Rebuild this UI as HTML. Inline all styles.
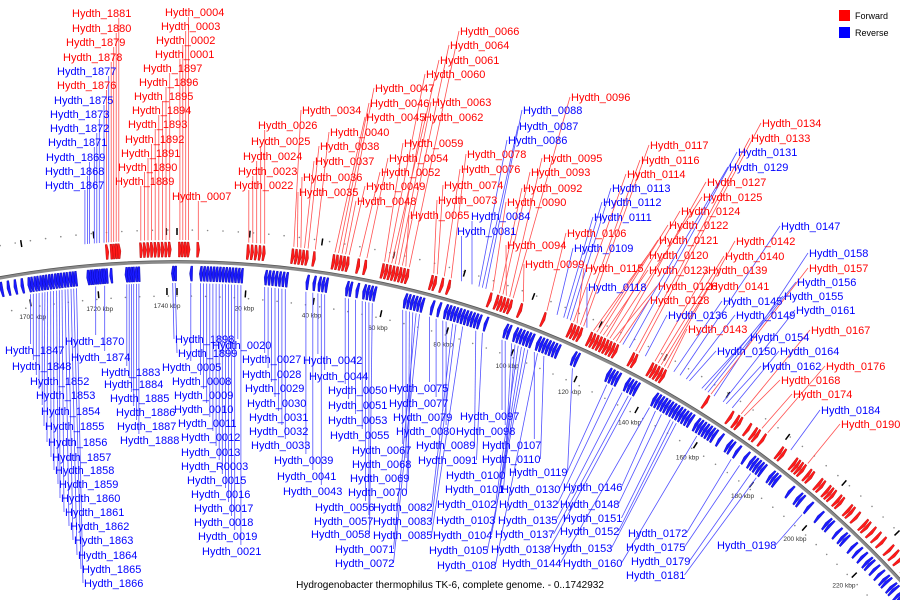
<!DOCTYPE html>
<html><head><meta charset="utf-8"><style>
html,body{margin:0;padding:0;background:#fff;width:900px;height:600px;overflow:hidden;}
svg{display:block;font-family:"Liberation Sans",sans-serif;overflow:hidden;}
</style></head><body>
<svg id="map" width="900" height="600" viewBox="0 0 900 600" xmlns="http://www.w3.org/2000/svg">
<g id="ticks"></g>
<circle cx="177" cy="1242" r="980" fill="none" stroke="#8a8a8a" stroke-width="3"/>
<circle cx="177" cy="1242" r="981.5" fill="none" stroke="#555" stroke-width="0.8"/>
<g id="genes"></g>
<g id="lines"></g>
<g id="labels" font-size="11"></g>
<g font-size="9">
 <rect x="839" y="10" width="11" height="11" fill="#f00"/>
 <text x="855" y="19" fill="#000">Forward</text>
 <rect x="839" y="27" width="11" height="11" fill="#00f"/>
 <text x="855" y="36" fill="#000">Reverse</text>
</g>
<text x="450" y="588" font-size="10" text-anchor="middle" fill="#000">Hydrogenobacter thermophilus TK-6, complete genome. - 0..1742932</text>
</svg>
<script>
const genomeLength = 1742.932;
const tickKbp = [1700,1720,1740,20,40,60,80,100,120,140,160,180,200,220];
const geneNames = ["1847","1848","1852","1853","1854","1855","1856","1857","1858","1859","1860","1861","1862","1863","1864","1865","1866","1867","1868","1869","1870","1871","1872","1873","1874","1875","1876","1877","1878","1879","1880","1881","1883","1884","1885","1886","1887","1888","1889","1890","1891","1892","1893","1894","1895","1896","1897","1898","1899",
"0001","0002","0003","0004","0005","0007","0008","0009","0010","0011","0012","0013","R0003","0015","0016","0017","0018","0019","0020","0021","0022","0023","0024","0025","0026","0027","0028","0029","0030","0031","0032","0033","0034","0035","0036","0037","0038","0039","0040","0041","0042","0043","0044","0045","0046","0047","0048","0049","0050","0051","0052","0053","0054","0055","0056","0057","0058","0059","0060","0061","0062","0063","0064","0065","0066","0067","0068","0069","0070","0071","0072","0073","0074","0075","0076","0077","0078","0079","0080","0081","0082","0083","0084","0085","0086","0087","0088","0089","0090","0091","0092","0093","0094","0095","0096","0097","0098","0099","0100","0101","0102","0103","0104","0105","0106","0107","0108","0109","0110","0111","0112","0113","0114","0115","0116","0117","0118","0119","0120","0121","0122","0123","0124","0125","0126","0127","0128","0129","0130","0131","0132","0133","0134","0135","0136","0137","0138","0139","0140","0141","0142","0143","0144","0145","0146","0147","0148","0149","0150","0151","0152","0153","0154","0155","0156","0157","0158","0160","0161","0162","0164","0167","0168","0172","0174","0175","0176","0179","0181","0184","0190","0198"];
const forwardGenes = ["1881","1880","1879","1878","1876","0004","0003","0002","0001","1897","1896","1895","1894","1893","1892","1891","1890","1889","0007","0026","0025","0024","0023","0022","0034","0040","0038","0037","0036","0035","0047","0046","0045","0059","0054","0052","0049","0048","0063","0062","0066","0064","0061","0060","0078","0076","0074","0073","0065","0096","0095","0093","0092","0090","0094","0099","0117","0116","0114","0106","0115","0134","0133","0127","0125","0124","0122","0121","0120","0123","0126","0128","0139","0141","0140","0142","0143","0157","0167","0176","0168","0174","0190"];
const geneStart = [1700,1700.8,1701.7,1702.5,1703.4,1704.2,1705,1705.9,1706.7,1707.6,1708.4,1709.2,1710.1,1710.9,1711.8,1712.6,1713.4,1717,1717.7,1718.3,1719,1719.6,1720.3,1721,1721.6,1722.3,1723,1723.6,1724.3,1725,1725.7,1726.4,1728,1728.7,1729.4,1730,1730.8,1731.5,1732.5,1733.5,1734.5,1735.5,1736.5,1737.5,1738.5,1739.5,1740.5,1741.3,1742,
0.4,1.2,2,2.8,3.6,5.5,6.4,7.3,8.2,9.1,10,10.9,11.8,12.7,13.6,14.5,15.4,16.3,17.2,18.1,19.5,20.6,21.7,22.8,23.9,25,26,27,28,29,30,31,32,33,34,35,36,37,38,39,40.5,41.5,42.5,43.5,44.5,45.5,46.5,47.5,48.5,49.5,50.5,51.5,52.5,53.5,54.5,55.5,56.5,57.5,58.5,59.5,60.5,61.5,62.5,63.5,64.5,65.5,66.5,67.5,68.5,69.5,70.5,71.5,72.5,73.5,74.5,75.5,76.5,77.5,78.5,79.5,80.5,81.5,82.5,83.5,84.5,85.5,86.5,87.5,88.5,89.5,90.5,91.5,92.5,93.5,94.5,95.5,96.5,97.5,98.5,99.5,100.5,101.5,102.5,103.5,104.5,105.5,106.5,107.5,108.5,109.5,110.5,111.5,112.5,113.5,114.5,115.5,116.5,117.5,118.5,119.5,120.5,121.5,122.5,123.5,124.5,125.5,126.5,127.5,128.5,129.5,130.5,131.5,132.5,133.5,134.5,135.5,136.5,137.5,138.5,139.5,140.5,141.5,142.5,143.5,144.5,145.5,146.5,147.5,148.5,149.5,150.5,151.5,152.5,153.5,154.5,155.5,156.5,158.5,159.5,160.5,162.5,165.5,166.5,170.5,172.5,173.5,174.5,177.5,179.5,182.5,188.5,196.5];
// unlabelled genes (start kbp, strand)
const extraStart = [1690,1692,1694,1696,1698,157.5,161.5,163.5,164.5,167.5,168.5,169.5,171.5,175.5,176.5,178.5,180.5,181.5,183.5,184.5,185.5,186.5,187.5,189.5,190.5,191.5,192.5,193.5,194.5,195.5,197.5,198.5,199.5,200.5,201.5,202.5,203.5,204.5,205.5,206.5,207.5,208.5,209.5,210.5,211.5,212.5,213.5,214.5,215.5,216.5,217.5,218.5,219.5,220.5,221.5,222.5,223.5,224.5,225.5,226.5,227.5,228.5,229.5,230.5,231.5,232.5,233.5,234.5,235.5,236.5];
const extraStrand = ["f","r","r","r","r","r","r","f","r","r","r","f","f","r","r","r","f","f","r","r","f","f","f","r","f","f","r","r","f","f","f","f","f","r","f","f","r","r","f","f","r","f","r","r","f","f","r","f","r","f","r","f","r","r","f","r","f","r","f","r","r","f","r","r","f","r","r","f","r","r"];
const labelLayout = [
["1881",72,13],["1880",72,28],["1879",66,42],["1878",63,57],["1877",57,71],["1876",57,85],["1875",54,100],["1873",50,114],["1872",50,128],["1871",48,142],["1869",46,157],["1868",45,171],["1867",45,185],
["0004",165,12],["0003",161,26],["0002",156,40],["0001",155,54],["1897",143,68],["1896",139,82],["1895",134,96],["1894",132,110],["1893",128,124],["1892",125,139],["1891",121,153],["1890",118,167],["1889",115,181],["0007",172,196],
["0026",258,125],["0025",251,141],["0024",243,156],["0023",238,171],["0022",234,185],
["0034",302,110],["0040",330,132],["0038",320,146],["0037",315,161],["0036",303,177],["0035",299,192],
["0047",375,88],["0046",370,103],["0045",366,117],["0059",404,143],["0054",389,158],["0052",381,172],["0049",366,186],["0048",357,201],
["0063",432,102],["0062",424,117],["0066",460,31],["0064",450,45],["0061",440,60],["0060",426,74],
["0078",467,154],["0076",461,169],["0074",444,185],["0073",438,200],["0065",410,215],
["0088",523,110],["0087",519,126],["0086",508,140],["0084",471,216],["0081",457,231],
["0096",571,97],["0095",543,158],["0093",531,172],["0092",523,188],["0090",507,202],["0094",507,245],["0099",525,264],
["0117",650,145],["0116",641,160],["0114",627,174],["0113",612,188],["0112",603,202],["0111",594,217],["0106",567,233],["0109",574,248],["0115",585,268],["0118",588,287],
["0134",762,123],["0133",751,138],["0131",738,152],["0129",729,167],["0127",707,182],["0125",703,197],["0124",681,211],["0122",669,225],["0121",659,240],["0120",649,255],["0123",649,270],["0126",658,286],["0128",650,300],
["0139",708,270],["0141",710,286],["0140",725,256],["0142",736,241],["0147",781,226],["0145",723,301],["0136",668,315],["0149",736,315],["0143",688,329],
["0161",796,310],["0158",809,253],["0157",809,268],["0156",797,282],["0155",784,296],["0154",750,337],["0167",811,330],["0150",717,351],["0164",780,351],["0162",762,366],["0176",826,366],["0168",781,380],["0174",793,394],["0184",821,410],["0190",841,424],
["1847",5,350],["1848",12,366],["1852",30,381],["1853",36,395],["1854",41,411],["1855",45,426],["1856",48,442],["1857",52,457],["1858",55,470],["1859",59,484],["1860",61,498],["1861",65,512],["1862",70,526],["1863",74,540],["1864",78,555],["1865",82,569],["1866",84,583],
["1870",65,341],["1874",71,357],["1883",101,372],["1884",104,384],["1885",110,398],["1886",116,412],["1887",117,426],["1888",120,440],
["1898",175,339],["1899",178,353],["0005",162,367],["0008",172,381],["0009",174,395],["0010",174,409],["0011",178,423],["0012",181,437],["0013",181,452],["R0003",181,466],["0015",187,480],["0016",191,494],["0017",194,508],["0018",194,522],["0019",198,536],["0021",202,551],
["0020",212,345],["0027",242,359],["0028",242,374],["0029",245,388],["0030",247,403],["0031",249,417],["0032",249,431],["0033",251,445],["0039",274,460],["0041",277,476],["0043",283,491],
["0042",303,360],["0044",309,376],["0050",328,390],["0051",328,405],["0053",328,420],["0055",330,435],["0067",352,450],["0068",352,464],["0069",350,478],["0070",348,492],["0056",315,507],["0057",314,521],["0058",311,534],["0071",335,549],["0072",335,563],
["0075",389,388],["0077",389,403],["0079",393,417],["0080",396,431],["0089",416,445],["0091",418,460],["0082",373,507],["0083",373,521],["0085",373,535],
["0097",460,416],["0098",456,431],["0107",482,445],["0110",482,459],["0119",509,472],["0100",446,475],["0101",445,489],["0102",437,504],["0103",436,520],["0104",433,535],["0105",429,550],["0108",437,565],
["0130",501,489],["0132",499,504],["0135",498,520],["0137",495,534],["0138",491,549],["0144",502,563],
["0146",563,487],["0148",560,504],["0151",563,518],["0152",560,531],["0153",553,548],["0160",563,563],
["0172",628,533],["0175",626,547],["0179",631,561],["0181",626,575],["0198",717,545]
];

const NS="http://www.w3.org/2000/svg";
const R=980, CX=177, CY=1242;
function ang(k){return k/genomeLength*2*Math.PI;}
function pt(k,r){const a=ang(k);return [CX+r*Math.sin(a), CY-r*Math.cos(a)];}
function mk(tag,attrs,parent){const e=document.createElementNS(NS,tag);for(const k in attrs)e.setAttribute(k,attrs[k]);parent.appendChild(e);return e;}
function isFwd(n){return forwardGenes.indexOf(n)>=0;}
const gTicks=document.getElementById('ticks'), gGenes=document.getElementById('genes'), gLines=document.getElementById('lines'), gLabels=document.getElementById('labels');

function dots(a,b){for(let k=a;k<b;k+=4.2){for(const r of [R+32,R-34]){const p=pt(k,r);const c=mk('circle',{cx:p[0].toFixed(1),cy:p[1].toFixed(1),r:0.8,fill:'#888'},gTicks);

}}}
dots(1690,1742.9); dots(0,240);
const tickList=tickKbp.concat([0]);
tickList.forEach(k=>{for(const [a,b] of [[R+27,R+34],[R-26,R-33]]){const p1=pt(k,a),p2=pt(k,b);const l=mk('line',{x1:p1[0],y1:p1[1],x2:p2[0],y2:p2[1],stroke:'#000','stroke-width':1.5},gTicks);

}});
tickKbp.forEach(k=>{const p=pt(k,R-44);const t=mk('text',{x:p[0].toFixed(1),y:(p[1]+2).toFixed(1),'font-size':6.5,fill:'#333','text-anchor':'middle'},gTicks);t.textContent=k+' kbp';

});

function drawGene(s,f,name){
  const e=s+0.85;
  let pts;
  if(f){const r1=R+5,r2=R+20,m=(r1+r2)/2,b=e-0.35;pts=[pt(s,r1),pt(b,r1),pt(e,m),pt(b,r2),pt(s,r2)];}
  else{const r1=R-4,r2=R-19,m=(r1+r2)/2,b=s+0.35;pts=[pt(e,r1),pt(b,r1),pt(s,m),pt(b,r2),pt(e,r2)];}
  const pg=mk('polygon',{points:pts.map(p=>p[0].toFixed(1)+','+p[1].toFixed(1)).join(' '),fill:f?'#ff1a1a':'#1a1aff',stroke:f?'#a00':'#00a','stroke-width':0.4},gGenes);
  
  
}
const geneIndex={};
geneNames.forEach((n,i)=>{geneIndex[n]=i;drawGene(geneStart[i],isFwd(n),'gene-'+n);});
extraStart.forEach((s,i)=>drawGene(s,extraStrand[i]==='f','gene-unlabelled'));

labelLayout.forEach(([n,x,y])=>{
  const i=geneIndex[n]; if(i===undefined) return;
  const name='Hydth_'+n, f=isFwd(n);
  const w=name.length*5.75;
  const outer=Math.hypot(x+w/2-CX,y-CY)>R;
  const tgt=pt(geneStart[i]+0.4,outer?R+22:R-21);
  let ax,ay;
  if(tgt[0]>=x&&tgt[0]<=x+w){ax=tgt[0];ay=outer?y+5:y-6;}
  else if(tgt[0]>x+w){ax=x+w+1;ay=y;}
  else{ax=x-1;ay=y;}
  const ln=mk('line',{x1:ax.toFixed(1),y1:ay.toFixed(1),x2:tgt[0].toFixed(1),y2:tgt[1].toFixed(1),stroke:f?'#ff5050':'#5050ff','stroke-width':0.8},gLines);
  
  
  const t=mk('text',{x:x,y:y+4,fill:f?'#ff0000':'#0000ff'},gLabels);
  t.textContent=name;
  
  
});
</script>
</body></html>
